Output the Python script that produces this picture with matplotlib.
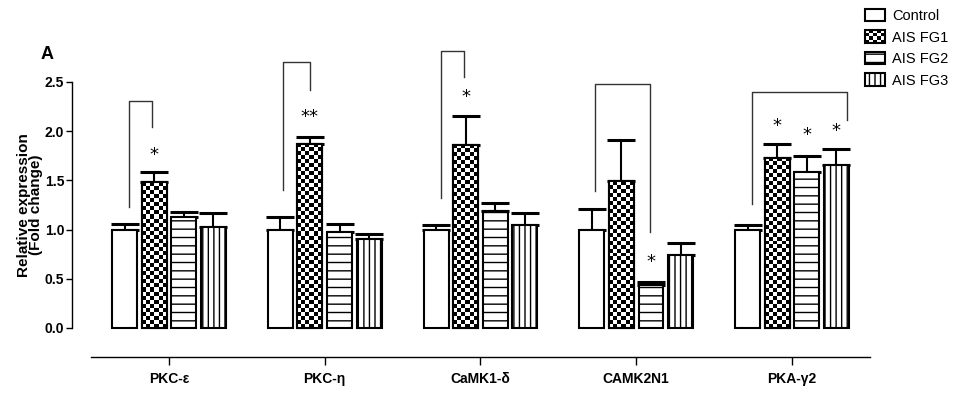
"""Relative expression of PKC / CaMK / PKA genes across AIS groups."""

import numpy
from matplotlib import pyplot
from matplotlib.patches import Patch, Rectangle
from matplotlib.legend_handler import HandlerBase


genes = ['PKC-ε', 'PKC-η', 'CaMK1-δ', 'CAMK2N1', 'PKA-γ2']
groups = ['Control', 'AIS FG1', 'AIS FG2', 'AIS FG3']

# mean fold change, one list per group (in gene order)
control = [1.00, 1.00, 1.00, 1.00, 1.00]
fg1 = [1.48, 1.87, 1.86, 1.49, 1.73]
fg2 = [1.13, 0.98, 1.19, 0.44, 1.59]
fg3 = [1.03, 0.90, 1.05, 0.74, 1.66]

# upper error (SEM)
control_err = [0.06, 0.13, 0.05, 0.21, 0.05]
fg1_err = [0.11, 0.07, 0.29, 0.42, 0.14]
fg2_err = [0.05, 0.08, 0.08, 0.03, 0.16]
fg3_err = [0.14, 0.06, 0.12, 0.12, 0.16]

# significance brackets: gene, left/right leg offsets, left foot, top, right foot
brackets = [
    (0, -0.257, -0.109, 1.23, 2.31, 2.04),
    (1, -0.267, -0.092, 1.40, 2.70, 2.42),
    (2, -0.252, -0.103, 1.32, 2.81, 2.55),
    (3, -0.262, 0.091, 1.39, 2.48, 0.98),
    (4, -0.258, 0.352, 1.26, 2.40, 2.11),
]
# stars: gene, group index, text, height
stars = [
    (0, 1, '*', 1.81),
    (1, 1, '**', 2.19),
    (2, 1, '*', 2.39),
    (3, 2, '*', 0.72),
    (4, 1, '*', 2.10),
    (4, 2, '*', 2.01),
    (4, 3, '*', 2.05),
]

means = [control, fg1, fg2, fg3]
errs = [control_err, fg1_err, fg2_err, fg3_err]
hatches = [None, None, '--', '|||']

pyplot.rcParams['font.family'] = ['Liberation Sans', 'DejaVu Sans']
pyplot.rcParams['hatch.linewidth'] = 1.0

pitch = 0.19
width = 0.16
cell = 0.0407  # checker cell height in data units


def checker(ncols, nrows):
    i, j = numpy.indices((nrows, ncols))
    return ((i + j) % 2).astype(float)


class CheckerHandler(HandlerBase):
    def create_artists(self, legend, orig_handle, xdescent, ydescent,
                       width, height, fontsize, trans):
        arts = [Rectangle((-xdescent, -ydescent), width, height,
                          facecolor='white', edgecolor='none', transform=trans)]
        nc, nr = 5, 4
        w, h = width / nc, height / nr
        for r in range(nr):
            for c in range(nc):
                if (r + c) % 2 == 0:
                    arts.append(Rectangle((-xdescent + c * w, -ydescent + r * h),
                                          w, h, facecolor='black',
                                          edgecolor='none', transform=trans))
        arts.append(Rectangle((-xdescent, -ydescent), width, height,
                              facecolor='none', edgecolor='black', lw=1.5,
                              transform=trans))
        return arts


fig = pyplot.figure(figsize=(9.69, 3.98), dpi=100)
ax = fig.add_axes([0.0743, 0.103, 0.8257, 0.790])

x = numpy.arange(len(genes))
for k in range(len(groups)):
    xk = x + (k - 1.5) * pitch
    ax.errorbar(xk, means[k], yerr=[numpy.zeros(len(genes)), errs[k]],
                fmt='none', ecolor='black', elinewidth=1.5, capsize=10,
                capthick=2.2, zorder=1)
    ax.bar(xk, means[k], width, facecolor='white', edgecolor='black',
           linewidth=1.5, hatch=hatches[k], zorder=2)
    if k == 1:
        for xi, h in zip(xk, means[k]):
            nr = int(round(h / cell))
            ax.imshow(checker(6, nr), cmap='gray_r', vmin=0, vmax=1,
                      extent=(xi - width / 2, xi + width / 2, 0, h),
                      origin='lower', interpolation='nearest', aspect='auto',
                      zorder=2.5)
        ax.bar(xk, means[k], width, fill=False, edgecolor='black',
               linewidth=1.5, zorder=3)

for g, lo, ro, ly, ty, ry in brackets:
    ax.plot([g + lo, g + lo, g + ro, g + ro], [ly, ty, ty, ry],
            color='#333333', lw=1.0, zorder=1, clip_on=False)

for g, k, s, y in stars:
    ax.annotate(s, (g + (k - 1.5) * pitch, y), xytext=(0, -7),
                textcoords='offset points', ha='center', va='baseline',
                fontsize=13, family='DejaVu Sans')

ax.set_xlim(-0.623, 4.515)
ax.set_ylim(-0.295, 2.9)
ax.set_aspect('auto')
ax.spines['right'].set_visible(False)
ax.spines['top'].set_visible(False)
ax.spines['left'].set_bounds(0, 2.5)
ax.spines['bottom'].set_bounds(-0.5, 4.5)
for s in ('left', 'bottom'):
    ax.spines[s].set_linewidth(1.0)
ax.set_yticks(numpy.arange(0, 2.51, 0.5))
ax.set_yticklabels([f'{v:.1f}' for v in numpy.arange(0, 2.51, 0.5)],
                   fontweight='bold', fontsize=10)
ax.set_xticks(x)
ax.set_xticklabels(genes, fontweight='bold', fontsize=10)
ax.tick_params(axis='y', length=4, width=1.0, pad=1.5)
ax.tick_params(axis='x', length=6, width=1.0, pad=5)

ax.set_ylabel('Relative expression\n(Fold change)', fontweight='bold',
              fontsize=11, linespacing=0.8)
ax.yaxis.set_label_coords(-0.036, 0.4836)

fig.text(0.0485, 0.862, 'A', fontweight='bold', fontsize=13,
         ha='center', va='center')

handles = [Patch(facecolor='white', edgecolor='black', lw=1.5),
           Patch(facecolor='white', edgecolor='black'),
           Patch(facecolor='white', edgecolor='black', lw=1.5, hatch='--'),
           Patch(facecolor='white', edgecolor='black', lw=1.5, hatch='|||')]
fig.legend(handles, groups, loc='upper left', bbox_to_anchor=(0.882, 1.004),
           frameon=False, fontsize=10.5, handlelength=1.35, handleheight=0.95,
           handletextpad=0.5, labelspacing=0.5, borderpad=0.2,
           handler_map={handles[1]: CheckerHandler()})

fig.savefig('out.png', dpi=100)
